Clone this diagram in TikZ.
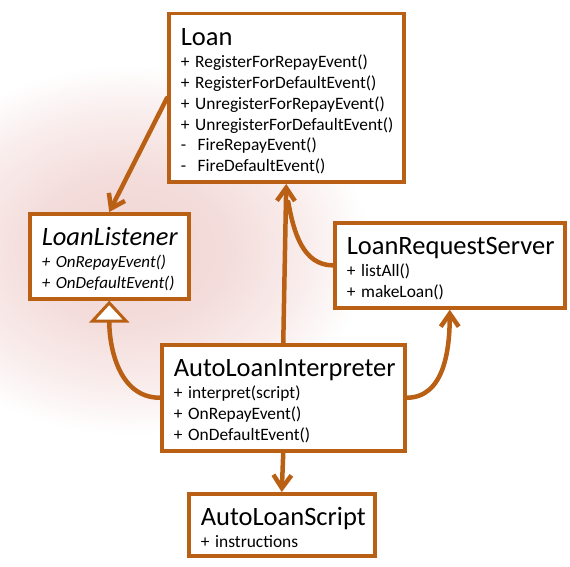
\documentclass[tikz,border=0pt]{standalone}
\usepackage{fontspec}
\setmainfont{Carlito}
\usetikzlibrary{arrows.meta}
\definecolor{rust}{RGB}{185,96,20}
\definecolor{blush}{RGB}{241,214,212}
\pgfdeclareradialshading{glow}{\pgfpoint{0bp}{0bp}}{color(0bp)=(blush); color(10bp)=(blush!85!white); color(19bp)=(blush!40!white); color(25bp)=(white); color(50bp)=(white)}
\newcommand{\clsname}[1]{\global\hyphenpenalty=10000\relax
  {\fontsize{26.5}{27}\selectfont #1\rule{0pt}{24pt}}\\[1.2pt]}
\begin{document}
\begin{tikzpicture}[x=1pt,y=1pt,
  cls/.style={draw=rust,line width=3.5pt,fill=white,anchor=north west,align=left,
    inner xsep=12pt,inner ysep=8pt,font=\fontsize{17.4}{20.8}\selectfont},
  dep/.style={draw=rust,line width=4.5pt,line cap=round,line join=round,
    -{Straight Barb[length=13pt,width=18pt]}},
  inh/.style={draw=rust,line width=4.5pt,
    -{Triangle[length=22pt,width=40pt,line width=3pt,fill=white]}},
  link/.style={draw=rust,line width=4.5pt,line cap=round}]
\useasboundingbox (0,0) rectangle (570,566);
\shade[shading=glow] (130,316) ellipse (240 and 185);
\node[cls,text width=211pt] (loan) at (167,554) {\clsname{Loan}%
+~RegisterForRepayEvent()\\
+~RegisterForDefaultEvent()\\
+~UnregisterForRepayEvent()\\
+~UnregisterForDefaultEvent()\\
-~~FireRepayEvent()\\
-~~FireDefaultEvent()};
\node[cls,text width=135pt,font=\fontsize{17}{20.8}\selectfont\itshape] (lst) at (28,354) {\clsname{LoanListener}%
+~OnRepayEvent()\\
+~OnDefaultEvent()};
\node[cls,text width=206pt] (lrs) at (333,345) {\clsname{LoanRequestServer}%
+~listAll()\\
+~makeLoan()};
\node[cls,text width=219pt] (ali) at (160,223) {\clsname{AutoLoanInterpreter}%
+~interpret(script)\\
+~OnRepayEvent()\\
+~OnDefaultEvent()};
\node[cls,text width=162pt] (als) at (187,74) {\clsname{AutoLoanScript}%
+~instructions};
\coordinate (join) at ([xshift=2pt,yshift=-18pt]loan.south);
\draw[dep] (loan.west) -- (lst.north);
\draw[link] (lrs.west) to[out=180,in=-80] (join);
\draw[dep] (ali.north) -- (loan.south);
\draw[inh] (ali.west) to[out=180,in=-90] (lst.south);
\draw[dep] (ali.east) to[out=0,in=-90] (lrs.south);
\draw[dep] (ali.south) -- (als.north);
\end{tikzpicture}
\end{document}
